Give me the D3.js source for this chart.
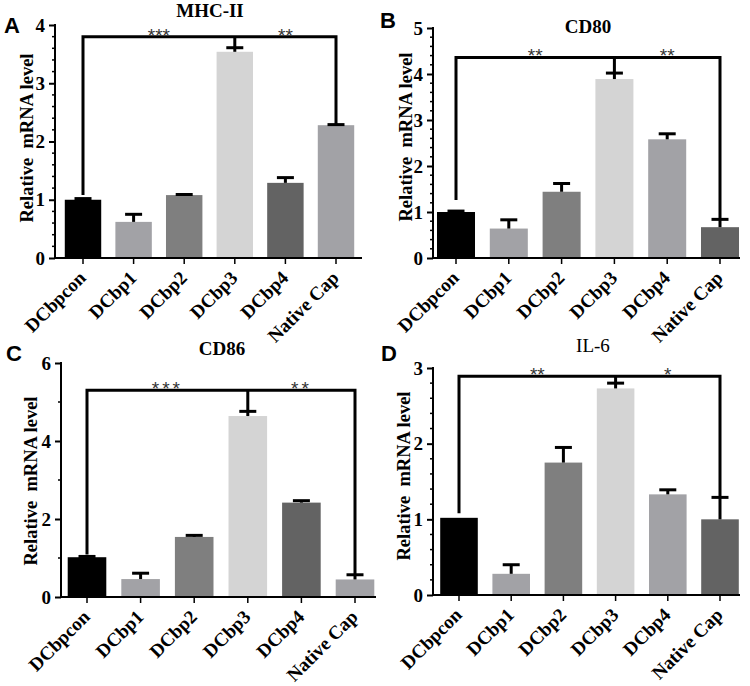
<!DOCTYPE html>
<html>
<head>
  <meta charset="utf-8">
  <title>mRNA levels</title>
  <script src="https://d3js.org/d3.v7.min.js"></script>
  <style>
    body { margin: 0; background: #fff; }
  </style>
</head>
<body>
<svg width="750" height="686" id="chart"></svg>
<script>

// categories and values
var categories = ["DCbpcon", "DCbp1", "DCbp2", "DCbp3", "DCbp4", "Native Cap"];

var mhcMean = [1.00, 0.62, 1.08, 3.54, 1.29, 2.28];
var mhcErr  = [0.02, 0.13, 0.01, 0.07, 0.09, 0.01];
var cd80Mean = [1.00, 0.64, 1.44, 3.89, 2.58, 0.67];
var cd80Err  = [0.02, 0.19, 0.18, 0.13, 0.12, 0.17];
var cd86Mean = [1.02, 0.46, 1.54, 4.64, 2.42, 0.45];
var cd86Err  = [0.02, 0.15, 0.04, 0.12, 0.05, 0.12];
var il6Mean = [1.02, 0.28, 1.75, 2.73, 1.33, 1.00];
var il6Err  = [0.00, 0.12, 0.20, 0.07, 0.06, 0.29];

var titles = ["MHC-II", "CD80", "CD86", "IL-6"];
var letters = ["A", "B", "C", "D"];
var yMax = [4, 5, 6, 3];
var yMajor = [[0, 1, 2, 3, 4], [0, 1, 2, 3, 4, 5], [0, 2, 4, 6], [0, 1, 2, 3]];
var yMinorStep = [0.2, 0.2, 1, 0.2];
// significance bracket: [top, left leg end, right leg end, middle leg end]
var brackets = [[3.80, 1.08, 2.30, 3.61], [4.36, 1.26, 0.84, 4.03], [5.30, 1.09, 0.57, 4.77], [2.89, 1.08, 1.30, 2.79]];
var starsLeft = ["***", "**", "***", "**"];
var starsRight = ["**", "**", "**", "*"];

var means = [mhcMean, cd80Mean, cd86Mean, il6Mean];
var errs = [mhcErr, cd80Err, cd86Err, il6Err];

// layout of each panel (pixels)
var layout = [
  {ax: 55,  x1: 362, y0: 258, yT: 25,  band: [57.7, 361.3], title: [210, 17],  letter: [4, 33],    ylab: [33, 138], boldTitle: true, starSp: 0},
  {ax: 433, x1: 740, y0: 258, yT: 28,  band: [429.6, 746.4], title: [588, 33], letter: [380, 28],  ylab: [412, 137], boldTitle: true, starSp: 0},
  {ax: 61,  x1: 376, y0: 597, yT: 363, band: [60.2, 381.8], title: [222, 355], letter: [6, 361],   ylab: [37, 481], boldTitle: true, starSp: 3},
  {ax: 433, x1: 740, y0: 595, yT: 368, band: [432.9, 746.1], title: [593, 352], letter: [381, 361], ylab: [410, 476], boldTitle: false, starSp: 0}
];

var dark = "#636363", mid = "#a2a2a6";
var palettes = [
  ["#000000", mid, "#7f7f7f", "#d4d4d4", dark, mid],
  ["#000000", mid, "#7f7f7f", "#d4d4d4", mid, dark],
  ["#000000", mid, "#7f7f7f", "#d4d4d4", dark, mid],
  ["#000000", mid, "#7f7f7f", "#d4d4d4", mid, dark]
];

var serif = "'Liberation Serif', 'Times New Roman', serif";
var sans = "'Liberation Sans', Arial, sans-serif";

var svg = d3.select("#chart");

layout.forEach(function(L, i) {
  var g = svg.append("g");

  var x = d3.scaleBand()
            .domain(categories)
            .range(L.band)
            .paddingInner(0.28)
            .paddingOuter(0.14);
  var y = d3.scaleLinear()
            .domain([0, yMax[i]])
            .range([L.y0, L.yT]);

  var rows = categories.map(function(c, k) {
    return {cat: c, mean: means[i][k], err: errs[i][k], color: palettes[i][k]};
  });

  // bars
  g.selectAll(".bar")
      .data(rows)
    .enter().append("rect")
      .attr("class", "bar")
      .attr("x", function(d) { return x(d.cat); })
      .attr("width", x.bandwidth())
      .attr("y", function(d) { return y(d.mean); })
      .attr("height", function(d) { return L.y0 - y(d.mean); })
      .attr("fill", function(d) { return d.color; });

  // error bars (upper only)
  var eb = g.selectAll(".err")
      .data(rows.filter(function(d) { return d.err > 0; }))
    .enter().append("g")
      .attr("class", "err")
      .attr("stroke", "#000")
      .attr("stroke-width", 3);
  eb.append("line")
      .attr("x1", function(d) { return x(d.cat) + x.bandwidth() / 2; })
      .attr("x2", function(d) { return x(d.cat) + x.bandwidth() / 2; })
      .attr("y1", function(d) { return y(d.mean); })
      .attr("y2", function(d) { return y(d.mean + d.err); });
  eb.append("line")
      .attr("x1", function(d) { return x(d.cat) + x.bandwidth() / 2 - 8.5; })
      .attr("x2", function(d) { return x(d.cat) + x.bandwidth() / 2 + 8.5; })
      .attr("y1", function(d) { return y(d.mean + d.err); })
      .attr("y2", function(d) { return y(d.mean + d.err); });

  // y axis
  var yAxis = g.append("g")
      .attr("transform", "translate(" + L.ax + ",0)")
      .call(d3.axisLeft(y).tickValues(yMajor[i]).tickSize(6).tickPadding(4).tickFormat(d3.format("d")));
  yAxis.select(".domain").remove();
  yAxis.selectAll(".tick line").attr("stroke-width", 2);
  yAxis.selectAll(".tick text")
      .attr("font-family", serif)
      .attr("font-weight", "bold")
      .attr("font-size", "19px")
      .attr("fill", "#000");

  var minor = d3.range(0, yMax[i] + 1e-6, yMinorStep[i]).filter(function(v) {
    return yMajor[i].every(function(m) { return Math.abs(m - v) > 1e-6; });
  });
  g.selectAll(".minor")
      .data(minor)
    .enter().append("line")
      .attr("x1", L.ax - 3)
      .attr("x2", L.ax)
      .attr("y1", function(d) { return y(d); })
      .attr("y2", function(d) { return y(d); })
      .attr("stroke", "#000")
      .attr("stroke-width", 1.5);

  g.append("line")
      .attr("x1", L.ax).attr("x2", L.ax)
      .attr("y1", L.y0 + 1).attr("y2", y(yMax[i]) - 1)
      .attr("stroke", "#000").attr("stroke-width", 2);

  // x axis
  g.append("line")
      .attr("x1", L.ax).attr("x2", L.x1)
      .attr("y1", L.y0).attr("y2", L.y0)
      .attr("stroke", "#000").attr("stroke-width", 2);
  g.selectAll(".xtick")
      .data(categories)
    .enter().append("line")
      .attr("x1", function(d) { return x(d) + x.bandwidth() / 2; })
      .attr("x2", function(d) { return x(d) + x.bandwidth() / 2; })
      .attr("y1", L.y0)
      .attr("y2", L.y0 + 6)
      .attr("stroke", "#000").attr("stroke-width", 1.5);
  g.selectAll(".xlab")
      .data(categories)
    .enter().append("text")
      .attr("transform", function(d) {
        return "translate(" + (x(d) + x.bandwidth() / 2 + 4) + "," + (L.y0 + 21) + ") rotate(-45)";
      })
      .attr("text-anchor", "end")
      .attr("font-family", serif)
      .attr("font-weight", "bold")
      .attr("font-size", "19px")
      .text(function(d) { return d; });

  // significance bracket
  var b = brackets[i];
  var xl = x(categories[0]) + x.bandwidth() / 2,
      xm = x(categories[3]) + x.bandwidth() / 2,
      xr = x(categories[5]) + x.bandwidth() / 2;
  g.append("path")
      .attr("d", "M" + xl + "," + y(b[1]) + "V" + y(b[0]) + "H" + xr + "V" + y(b[2]) +
                 "M" + xm + "," + y(b[0]) + "V" + y(b[3]))
      .attr("fill", "none")
      .attr("stroke", "#000")
      .attr("stroke-width", 3);
  [[starsLeft[i], (xl + xm) / 2], [starsRight[i], (xm + xr) / 2]].forEach(function(s) {
    g.append("text")
        .attr("x", s[1])
        .attr("y", y(b[0]) + 5)
        .attr("text-anchor", "middle")
        .attr("font-family", sans)
        .attr("font-size", "19px")
        .attr("letter-spacing", L.starSp + "px")
        .attr("fill", "#333")
        .text(s[0]);
  });

  // title, axis title, panel letter
  g.append("text")
      .attr("x", L.title[0]).attr("y", L.title[1])
      .attr("text-anchor", "middle")
      .attr("font-family", serif)
      .attr("font-weight", L.boldTitle ? "bold" : "normal")
      .attr("font-size", "19px")
      .text(titles[i]);
  g.append("text")
      .attr("transform", "translate(" + L.ylab[0] + "," + L.ylab[1] + ") rotate(-90)")
      .attr("text-anchor", "middle")
      .attr("font-family", serif)
      .attr("font-weight", "bold")
      .attr("font-size", "18.5px")
      .attr("xml:space", "preserve")
      .text("Relative  mRNA level");
  g.append("text")
      .attr("x", L.letter[0]).attr("y", L.letter[1])
      .attr("font-family", sans)
      .attr("font-weight", "bold")
      .attr("font-size", "22px")
      .text(letters[i]);
});

</script>
</body>
</html>
